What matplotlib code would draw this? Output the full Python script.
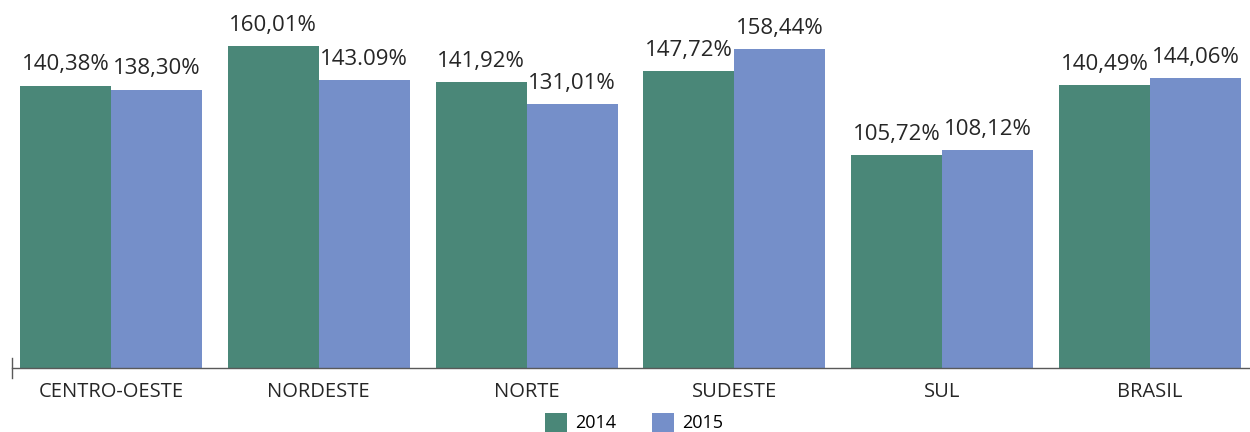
import numpy as np
import matplotlib.pyplot as plt

regioes = ['CENTRO-OESTE', 'NORDESTE', 'NORTE', 'SUDESTE', 'SUL', 'BRASIL']
valores_2014 = [140.38, 160.01, 141.92, 147.72, 105.72, 140.49]
valores_2015 = [138.30, 143.09, 131.01, 158.44, 108.12, 144.06]
anos = ['2014', '2015']

cor_2014 = '#4a8778'
cor_2015 = '#758fc9'


def rotulo(v):
    return f'{v:.2f}%'.replace('.', ',')


plt.rcParams['font.family'] = ['Open Sans', 'DejaVu Sans']

fig = plt.figure(figsize=(12.5, 4.32), dpi=100)
ax = fig.add_axes([12 / 1250, 64 / 432, 1238 / 1250, 368 / 432])

x = np.arange(len(regioes))
w = 0.438
b1 = ax.bar(x - w / 2, valores_2014, w, color=cor_2014, label=anos[0])
b2 = ax.bar(x + w / 2, valores_2015, w, color=cor_2015, label=anos[1])

# 2015 do Nordeste aparece com ponto no original
textos_2015 = [rotulo(v) for v in valores_2015]
textos_2015[1] = '143.09%'
for rect, v in zip(b1, valores_2014):
    ax.annotate(rotulo(v), (rect.get_x() + rect.get_width() / 2, v),
                xytext=(0, 11), textcoords='offset points',
                ha='center', va='baseline', fontsize=16, color='#262626')
for rect, v, t in zip(b2, valores_2015, textos_2015):
    ax.annotate(t, (rect.get_x() + rect.get_width() / 2, v),
                xytext=(0, 11), textcoords='offset points',
                ha='center', va='baseline', fontsize=16, color='#262626')

ax.set_xlim(-0.476, 5.481)
ax.set_ylim(0, 182.9)
ax.set_xticks(x)
ax.set_xticklabels(regioes, fontsize=14.5, color='#262626')
ax.tick_params(axis='x', length=0, pad=10)
ax.set_yticks([])
for s in ['top', 'right', 'left']:
    ax.spines[s].set_visible(False)
ax.spines['bottom'].set_color('#595959')
ax.spines['bottom'].set_linewidth(1)
ax.plot([0, 0], [-0.027, 0.027], transform=ax.transAxes, color='#595959',
        lw=1, clip_on=False)

fig.legend(loc='center', bbox_to_anchor=(0.507, 0.022), ncol=2, frameon=False,
           fontsize=13, handlelength=1.25, handleheight=1.25,
           handletextpad=0.4, columnspacing=2.0)

fig.savefig('out.png', dpi=100)
